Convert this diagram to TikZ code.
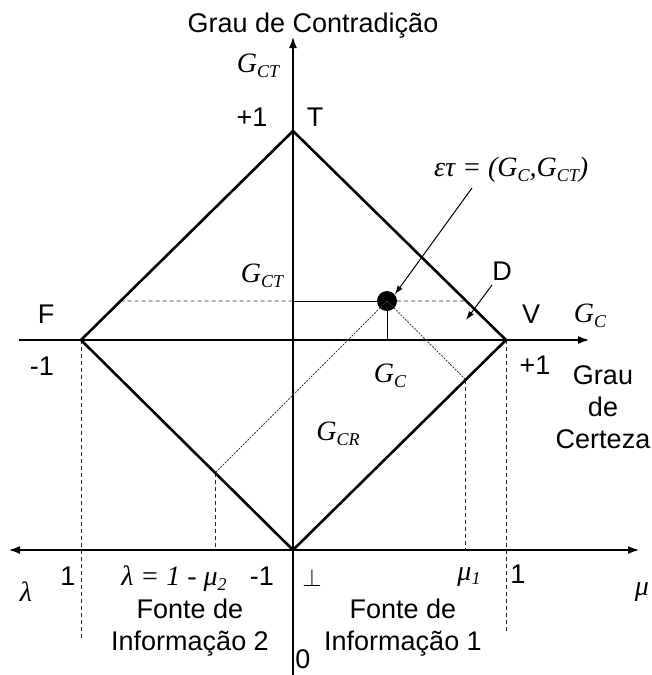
\documentclass[tikz,border=0pt]{standalone}
\usepackage{fontspec}
\setmainfont{Liberation Sans}
\newfontfamily\tms{Liberation Serif}
\usetikzlibrary{arrows.meta}
\newcommand{\sbx}[1]{\raisebox{-0.35ex}{\fontsize{18}{18}\selectfont #1}}
\begin{document}
\begin{tikzpicture}[x=1pt,y=-1pt,
  bold/.style={line width=2.6pt},
  thin/.style={line width=1pt},
  dashln/.style={line width=0.9pt, dash pattern=on 4pt off 3pt, black!85},
  dotln/.style={line width=0.8pt, dash pattern=on 2pt off 1.2pt, black!75},
  axarr/.style={bold, -{Latex[length=12pt,width=8pt]}},
  lbl/.style={font=\fontsize{27}{32}\selectfont, inner sep=0pt},
  mth/.style={font=\fontsize{28}{32}\selectfont\tms\itshape, inner sep=0pt},
  lblc/.style={lbl, align=center}]
\useasboundingbox (0,0) rectangle (651,675);

% diamond vertices
\coordinate (T) at (293,131);
\coordinate (F) at (81,340);
\coordinate (V) at (506,340);
\coordinate (B) at (293,550);

% axes
\coordinate (vbot) at (293,675);
\coordinate (vtop) at (293,36);
\coordinate (hleft) at (19,340);
\coordinate (hright) at (590,340);
\coordinate (lleft) at (8,550);
\coordinate (lright) at (640,550);
\draw[axarr] (vbot) -- (vtop);
\draw[axarr] (hleft) -- (hright);
\draw[bold, {Latex[length=12pt,width=8pt]}-{Latex[length=12pt,width=8pt]}] (lleft) -- (lright);

% point
\node[circle, fill=black, minimum size=20pt, inner sep=0pt] (dot) at (387,301) {};
\coordinate (yaxP) at (293,301);
\coordinate (xaxP) at (387,340);
\draw[thin] (yaxP) -- (dot.center);
\draw[thin] (dot.center) -- (xaxP);

% dashed horizontal
\coordinate (dl) at (intersection of F--T and 0,301--600,301);
\coordinate (dr) at (intersection of V--T and 0,301--600,301);
\draw[dashln] (dl) -- (yaxP);
\draw[dashln] (dot.east) -- (dr);

% dotted 45-degree lines
\coordinate (qL) at (intersection of F--B and 387,301--187,501);
\coordinate (qR) at (intersection of V--B and 387,301--587,501);
\coordinate (qLb) at (qL |- B);
\coordinate (qRb) at (qR |- B);
\draw[dotln] (dot.center) -- (qL);
\draw[dotln] (dot.center) -- (qR);
\draw[dashln] (qL) -- (qLb);
\draw[dashln] (qR) -- (qRb);

% vertical dashed from F and V
\coordinate (Fb) at (81,638);
\coordinate (Vb) at (506,633);
\draw[dashln] (F) -- (Fb);
\draw[dashln] (V) -- (Vb);

% diamond
\draw[bold, line join=miter] (T) -- (V) -- (B) -- (F) -- cycle;

% labels
\node[lbl] (title) at (313,26) {Grau de Contradição};
\node[mth] (gct1) at (258,66) {G\sbx{CT}};
\node[lbl] (p1t) at (252,117) {+1};
\node[lbl] (Tl) at (315,117) {T};
\node[mth, anchor=west] (eps) at (434,170) {ετ = (G\sbx{C},G\sbx{CT})};
\coordinate (epsA) at (472,188);
\draw[thin, -{Latex[length=9pt,width=6pt]}] (epsA) -- (dot.40);
\node[lbl] (Dl) at (502,271) {D};
\coordinate (DA) at (492,285);
\coordinate (DB) at (466,320);
\draw[thin, -{Latex[length=9pt,width=6pt]}] (DA) -- (DB);
\node[mth] (gct2) at (262,276) {G\sbx{CT}};
\node[lbl] (Fl) at (46,314) {F};
\node[lbl] (Vl) at (531,314) {V};
\node[mth] (gc1) at (590,316) {G\sbx{C}};
\node[lbl] (m1l) at (42,366) {-1};
\node[lbl] (p1r) at (535,365) {+1};
\node[lblc] (gce) at (603,407) {Grau\\de\\Certeza};
\node[mth] (gc2) at (390,376) {G\sbx{C}};
\node[mth] (gcr) at (338,434) {G\sbx{CR}};

\node[mth] (lam) at (26,592) {λ};
\node[lbl] (one1) at (68,576) {1};
\node[mth] (lamd) at (174,579) {λ = 1 - μ\sbx{2}};
\node[lbl] (m1b) at (262,576) {-1};
\node[lbl] (bot) at (312,578) {$\perp$};
\node[mth] (mu1) at (469,577) {μ\sbx{1}};
\node[lbl] (one2) at (518,574) {1};
\node[mth] (mu) at (642,592) {μ};
\node[lblc] (f2) at (190,628) {Fonte de\\Informação 2};
\node[lblc] (f1) at (403,628) {Fonte de\\Informação 1};
\node[lbl] (zero) at (303,659) {0};
\end{tikzpicture}
\end{document}
